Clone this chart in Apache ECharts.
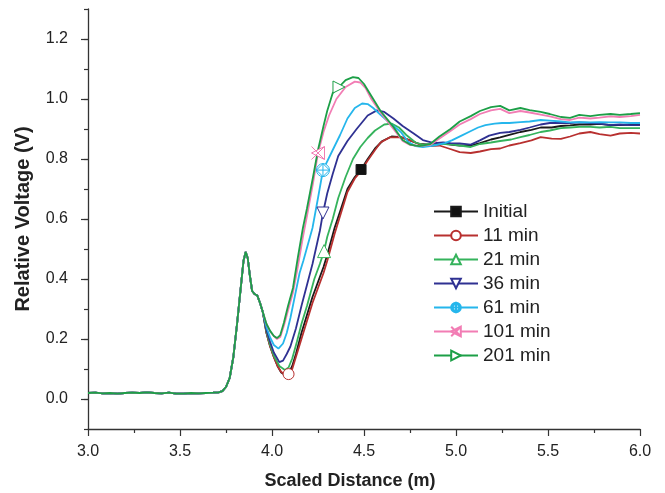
<!DOCTYPE html>
<html>
<head>
<meta charset="utf-8">
<script src="https://cdn.jsdelivr.net/npm/echarts@6/dist/echarts.min.js"></script>
<style>html,body{margin:0;padding:0;background:#fff}#c{width:665px;height:493px}</style>
</head>
<body>
<div id="c"></div>
<script>
// ---- data ----
var seriesNames = ['Initial', '11 min', '21 min', '36 min', '61 min', '101 min', '201 min'];
var xTickLabels = ['3.0', '3.5', '4.0', '4.5', '5.0', '5.5', '6.0'];
var yTickLabels = ['0.0', '0.2', '0.4', '0.6', '0.8', '1.0', '1.2'];

var sharedStart = [[3.0,0.02],[3.04,0.021],[3.08,0.019],[3.12,0.02],[3.16,0.018],[3.2,0.02],[3.24,0.021],[3.28,0.02],[3.32,0.022],[3.36,0.02],[3.4,0.019],[3.44,0.021],[3.48,0.018],[3.52,0.018],[3.56,0.02],[3.6,0.019],[3.64,0.02],[3.68,0.021],[3.71,0.022],[3.73,0.026],[3.75,0.04],[3.77,0.07],[3.79,0.14],[3.81,0.25],[3.83,0.37],[3.845,0.46],[3.857,0.49],[3.868,0.47],[3.88,0.41],[3.892,0.36],[3.905,0.35],[3.92,0.345],[3.935,0.32]];

var initialTail = [[3.95,0.29],[3.97,0.22],[3.99,0.175],[4.01,0.14],[4.03,0.11],[4.05,0.088],[4.07,0.08],[4.09,0.085],[4.11,0.11],[4.13,0.15],[4.16,0.22],[4.19,0.28],[4.22,0.34],[4.25,0.39],[4.28,0.44],[4.30,0.48],[4.34,0.57],[4.37,0.625],[4.41,0.70],[4.45,0.74],[4.484,0.765],[4.52,0.80],[4.56,0.835],[4.60,0.86],[4.65,0.875],[4.70,0.873],[4.75,0.862],[4.80,0.85],[4.86,0.848],[4.91,0.852],[4.97,0.848],[5.02,0.845],[5.08,0.845],[5.13,0.853],[5.19,0.865],[5.24,0.872],[5.30,0.882],[5.35,0.89],[5.41,0.897],[5.46,0.905],[5.52,0.905],[5.57,0.91],[5.62,0.912],[5.67,0.915],[5.73,0.915],[5.78,0.917],[5.84,0.913],[5.89,0.913],[5.95,0.915],[6.0,0.915]];

var min11Tail = [[3.95,0.29],[3.97,0.22],[3.99,0.175],[4.01,0.14],[4.03,0.11],[4.05,0.09],[4.07,0.083],[4.09,0.083],[4.11,0.1],[4.13,0.14],[4.16,0.2],[4.19,0.26],[4.22,0.32],[4.25,0.37],[4.28,0.42],[4.30,0.46],[4.34,0.55],[4.37,0.61],[4.41,0.69],[4.45,0.735],[4.48,0.757],[4.52,0.795],[4.56,0.83],[4.59,0.855],[4.64,0.872],[4.70,0.873],[4.75,0.862],[4.80,0.85],[4.86,0.843],[4.91,0.845],[4.96,0.835],[5.02,0.823],[5.08,0.82],[5.13,0.825],[5.19,0.833],[5.24,0.835],[5.29,0.845],[5.35,0.853],[5.41,0.862],[5.46,0.873],[5.52,0.868],[5.57,0.867],[5.62,0.875],[5.67,0.885],[5.73,0.89],[5.78,0.883],[5.84,0.878],[5.89,0.885],[5.95,0.887],[6.0,0.885]];

var min21Tail = [[3.95,0.29],[3.97,0.225],[3.99,0.18],[4.01,0.145],[4.04,0.11],[4.07,0.097],[4.09,0.105],[4.11,0.135],[4.135,0.19],[4.16,0.25],[4.19,0.31],[4.23,0.40],[4.26,0.45],[4.283,0.493],[4.30,0.54],[4.33,0.60],[4.36,0.67],[4.40,0.74],[4.44,0.80],[4.48,0.84],[4.52,0.87],[4.56,0.895],[4.61,0.915],[4.65,0.918],[4.69,0.905],[4.73,0.88],[4.78,0.855],[4.82,0.848],[4.86,0.848],[4.91,0.85],[4.96,0.85],[5.02,0.845],[5.08,0.84],[5.13,0.85],[5.19,0.855],[5.24,0.86],[5.30,0.865],[5.35,0.873],[5.40,0.88],[5.46,0.89],[5.51,0.895],[5.57,0.903],[5.62,0.905],[5.67,0.907],[5.73,0.907],[5.78,0.905],[5.84,0.907],[5.89,0.903],[5.95,0.903],[6.0,0.903]];

var min36Tail = [[3.95,0.29],[3.97,0.23],[3.99,0.19],[4.01,0.155],[4.04,0.123],[4.06,0.128],[4.08,0.15],[4.10,0.175],[4.13,0.235],[4.16,0.31],[4.19,0.38],[4.22,0.45],[4.26,0.56],[4.277,0.62],[4.30,0.685],[4.33,0.75],[4.36,0.81],[4.41,0.86],[4.46,0.9],[4.52,0.945],[4.57,0.962],[4.61,0.957],[4.66,0.935],[4.71,0.91],[4.77,0.885],[4.82,0.863],[4.88,0.853],[4.93,0.855],[4.97,0.853],[5.02,0.852],[5.08,0.848],[5.13,0.862],[5.18,0.878],[5.24,0.887],[5.29,0.89],[5.35,0.897],[5.40,0.905],[5.46,0.915],[5.51,0.92],[5.57,0.92],[5.62,0.92],[5.67,0.922],[5.73,0.92],[5.78,0.918],[5.84,0.913],[5.89,0.915],[5.95,0.913],[6.0,0.913]];

var min61Tail = [[3.95,0.29],[3.97,0.24],[3.99,0.205],[4.01,0.18],[4.035,0.168],[4.06,0.185],[4.08,0.22],[4.10,0.27],[4.12,0.33],[4.15,0.42],[4.17,0.46],[4.22,0.57],[4.25,0.67],[4.277,0.763],[4.33,0.83],[4.37,0.88],[4.41,0.935],[4.45,0.97],[4.49,0.985],[4.52,0.983],[4.55,0.97],[4.59,0.947],[4.64,0.92],[4.70,0.89],[4.74,0.857],[4.78,0.843],[4.82,0.84],[4.88,0.845],[4.94,0.853],[4.98,0.863],[5.03,0.878],[5.07,0.89],[5.12,0.905],[5.16,0.913],[5.21,0.918],[5.25,0.92],[5.29,0.92],[5.35,0.923],[5.40,0.925],[5.46,0.93],[5.51,0.928],[5.57,0.925],[5.62,0.922],[5.67,0.923],[5.73,0.922],[5.78,0.923],[5.84,0.922],[5.89,0.922],[5.95,0.92],[6.0,0.92]];

var min101Tail = [[3.95,0.29],[3.97,0.25],[3.99,0.225],[4.01,0.21],[4.027,0.2],[4.045,0.207],[4.065,0.245],[4.087,0.295],[4.114,0.355],[4.14,0.44],[4.168,0.54],[4.19,0.61],[4.223,0.72],[4.25,0.82],[4.28,0.89],[4.31,0.945],[4.35,1.0],[4.40,1.04],[4.45,1.058],[4.48,1.055],[4.51,1.035],[4.54,1.0],[4.59,0.955],[4.66,0.9],[4.71,0.86],[4.75,0.847],[4.80,0.843],[4.86,0.847],[4.91,0.868],[4.97,0.893],[5.02,0.915],[5.08,0.933],[5.13,0.95],[5.19,0.962],[5.24,0.967],[5.29,0.953],[5.35,0.96],[5.40,0.955],[5.46,0.948],[5.51,0.942],[5.57,0.933],[5.62,0.93],[5.67,0.938],[5.73,0.935],[5.78,0.938],[5.84,0.942],[5.89,0.94],[5.95,0.943],[6.0,0.947]];

var min201Tail = [[3.95,0.29],[3.97,0.25],[3.99,0.227],[4.01,0.21],[4.027,0.203],[4.045,0.213],[4.065,0.255],[4.087,0.31],[4.114,0.37],[4.14,0.47],[4.168,0.57],[4.19,0.635],[4.223,0.74],[4.25,0.83],[4.28,0.91],[4.30,0.96],[4.33,1.02],[4.364,1.04],[4.40,1.063],[4.44,1.073],[4.47,1.07],[4.50,1.05],[4.53,1.02],[4.59,0.96],[4.66,0.907],[4.71,0.863],[4.75,0.848],[4.80,0.843],[4.86,0.85],[4.91,0.875],[4.97,0.9],[5.02,0.925],[5.08,0.943],[5.13,0.96],[5.19,0.973],[5.24,0.977],[5.29,0.962],[5.35,0.97],[5.40,0.963],[5.46,0.957],[5.51,0.95],[5.57,0.94],[5.62,0.937],[5.67,0.947],[5.73,0.943],[5.78,0.947],[5.84,0.95],[5.89,0.947],[5.95,0.95],[6.0,0.953]];

var markerPoints = [[4.484,0.765],[4.09,0.083],[4.283,0.493],[4.277,0.62],[4.277,0.763],[4.25,0.82],[4.364,1.04]];

// ---- styling ----
var tails = [initialTail, min11Tail, min21Tail, min36Tail, min61Tail, min101Tail, min201Tail];
var colors = ['#1a1a1a', '#b8302f', '#35b35c', '#2f3192', '#25b6ec', '#f27db4', '#1c9f47'];
var fills  = ['#111111', '#ffffff', '#ffffff', '#ffffff', '#ffffff', '#ffffff', '#ffffff'];
var symbols = [
  'rect',
  'circle',
  'path://M5,0L10,10L0,10Z',
  'path://M0,0L10,0L5,10Z',
  'path://M5,0A5,5,0,1,1,5,10A5,5,0,1,1,5,0ZM5,0L10,5L5,10L0,5ZM5,0L5,10M0,5L10,5',
  'path://M0,0L10,10M0,10L10,0M10,0L0,5L10,10Z',
  'path://M0,0L10,5L0,10Z'
];
var markSizes = [10, 11, 13, 12, 13, 13, 12];
var FONT = '"Liberation Sans", Arial, Helvetica, sans-serif';

var series = seriesNames.map(function (name, i) {
  return {
    name: name,
    type: 'line',
    data: sharedStart.concat(tails[i]),
    showSymbol: false,
    symbol: symbols[i],
    symbolSize: markSizes[i],
    itemStyle: { color: fills[i], borderColor: colors[i], borderWidth: 1 },
    lineStyle: { color: colors[i], width: 1.8 },
    animation: false,
    silent: true,
    emphasis: { disabled: true },
    markPoint: {
      silent: true,
      animation: false,
      symbol: symbols[i],
      symbolSize: markSizes[i],
      itemStyle: { color: fills[i], borderColor: colors[i], borderWidth: 1 },
      label: { show: false },
      data: [{ coord: markerPoints[i] }]
    }
  };
});

var yLabelValues = yTickLabels.map(function (s) { return parseFloat(s); });
var axisColor = '#333';

var option = {
  backgroundColor: '#ffffff',
  animation: false,
  textStyle: { fontFamily: FONT },
  grid: { left: 88, right: 25, top: 9, bottom: 64, outerBoundsMode: 'none', containLabel: false },
  legend: {
    orient: 'vertical',
    left: 428,
    top: 197,
    itemWidth: 44,
    itemHeight: 12,
    itemGap: 5,
    selectedMode: false,
    textStyle: { fontSize: 19, color: '#222', fontFamily: FONT },
    data: seriesNames
  },
  xAxis: {
    type: 'value',
    min: 3, max: 6, interval: 0.5,
    axisLine: { show: true, onZero: false, lineStyle: { color: axisColor, width: 1.3 } },
    axisTick: { show: true, length: 7, lineStyle: { color: axisColor, width: 1.2 } },
    minorTick: { show: true, splitNumber: 2, length: 4, lineStyle: { color: axisColor, width: 1.2 } },
    splitLine: { show: false },
    axisLabel: {
      fontSize: 16, color: '#222', margin: 15, fontFamily: FONT,
      formatter: function (v) { var i = Math.round((v - 3) / 0.5); return xTickLabels[i] || ''; }
    },
    name: 'Scaled Distance (m)',
    nameLocation: 'middle',
    nameGap: 43,
    nameTextStyle: { fontSize: 18, fontWeight: 'bold', color: '#222', fontFamily: FONT, padding: [0, 28, 0, 0] }
  },
  yAxis: [{
    type: 'value',
    min: -0.1, max: 1.3, interval: 0.1,
    axisLine: { show: true, onZero: false, lineStyle: { color: axisColor, width: 1.3 } },
    axisTick: { show: true, length: 7, customValues: yLabelValues, lineStyle: { color: axisColor, width: 1.2 } },
    splitLine: { show: false },
    axisLabel: {
      fontSize: 16, color: '#222', margin: 20, fontFamily: FONT,
      customValues: yLabelValues,
      formatter: function (v) { var i = Math.round(v / 0.2); return yTickLabels[i] || ''; }
    },
    name: 'Relative Voltage (V)',
    nameLocation: 'middle',
    nameGap: 55,
    nameTextStyle: { fontSize: 20, fontWeight: 'bold', color: '#222', fontFamily: FONT }
  }, {
    type: 'value',
    position: 'left',
    offset: 0,
    min: -0.1, max: 1.3, interval: 0.1,
    axisLine: { show: false },
    axisTick: { show: true, length: 4, lineStyle: { color: axisColor, width: 1.2 } },
    axisLabel: { show: false },
    splitLine: { show: false }
  }],
  series: series
};

var chart = echarts.init(document.getElementById('c'), null, { renderer: 'canvas' });
chart.setOption(option);
</script>
</body>
</html>
